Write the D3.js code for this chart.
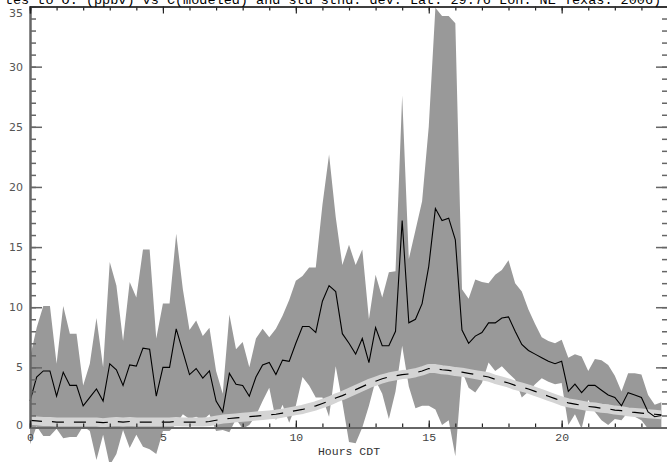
<!DOCTYPE html>
<html>
<head>
<meta charset="utf-8">
<script src="https://cdn.jsdelivr.net/npm/d3@7"></script>
<style>
  html, body { margin: 0; padding: 0; background: #fff; }
  svg { display: block; }
</style>
</head>
<body>
<svg id="chart" width="667" height="462"></svg>
<script>
// ---- data (15-minute steps, hours CDT) ----
const hours = d3.range(96).map(i => i * 0.25);

const obsMean = [
  2.2,4.2,4.7,4.7, 2.6,4.6,3.5,3.5, 1.8,2.5,3.2,2.2, 5.3,4.8,3.5,5.2,
  5.1,6.6,6.5,2.6, 5.0,5.0,8.2,6.3, 4.4,4.9,4.1,4.7, 2.2,1.3,4.5,3.6,
  3.5,2.6,4.2,5.2, 5.4,4.4,5.6,5.5, 7.0,8.4,8.4,7.9, 10.5,11.8,11.3,7.8,
  7.0,6.1,7.4,5.4, 8.3,6.8,6.8,8.0, 17.2,8.7,9.0,10.3, 13.4,18.2,17.2,17.4,
  15.6,8.1,7.0,7.6, 7.9,8.7,8.7,9.1, 9.2,8.0,6.9,6.4, 6.1,5.8,5.5,5.3,
  5.5,3.0,3.6,2.9, 3.5,3.5,3.1,2.7, 2.5,1.8,2.9,2.7, 2.5,1.3,0.9,1.0
];

const obsStd = [
  3.6,4.1,5.4,5.4, 2.7,5.5,4.3,4.3, 1.7,2.8,5.9,2.8, 8.45,7.0,3.7,6.9,
  5.7,8.2,8.3,4.8, 5.3,5.3,7.9,5.2, 3.7,4.0,3.5,3.6, 2.5,1.5,4.9,2.9,
  3.6,2.4,3.2,3.0, 2.1,3.8,3.7,5.1, 5.2,4.2,4.9,5.4, 8.0,10.9,6.2,5.7,
  8.2,7.4,7.4,3.6, 4.4,4.0,6.1,5.0, 10.4,5.3,7.4,8.5, 11.6,16.7,17.0,16.8,
  18.0,3.4,3.7,4.7, 4.2,3.3,4.0,4.0, 4.7,4.0,4.4,3.4, 2.5,1.7,1.7,1.7,
  1.8,2.8,2.5,3.0, 1.2,2.2,2.5,2.5, 1.8,1.2,1.6,1.8, 1.9,1.4,1.0,1.1
];

const modelMean = [
  0.6,0.55,0.5,0.5, 0.45,0.45,0.45,0.45, 0.45,0.45,0.45,0.4, 0.45,0.5,0.45,0.5,
  0.45,0.45,0.45,0.45, 0.45,0.45,0.5,0.45, 0.45,0.45,0.45,0.5, 0.6,0.7,0.75,0.8,
  0.85,0.9,0.95,1.0, 1.05,1.1,1.2,1.3, 1.4,1.5,1.65,1.8, 2.0,2.2,2.45,2.65,
  2.9,3.15,3.4,3.65, 3.85,4.05,4.2,4.3, 4.4,4.45,4.55,4.7, 4.9,4.9,4.8,4.75,
  4.65,4.6,4.5,4.4, 4.3,4.2,4.0,3.85, 3.7,3.5,3.35,3.2, 3.0,2.8,2.6,2.4,
  2.2,2.05,1.95,1.85, 1.75,1.7,1.6,1.55, 1.45,1.4,1.3,1.25, 1.2,1.15,1.1,1.05
];

const xMajorTicks = [0, 5, 10, 15, 20];
const xMinorTicks = d3.range(0, 25, 1);
const yMajorTicks = [0, 5, 10, 15, 20, 25, 30, 35];
const yMinorTicks = d3.range(0, 36, 1);
const titleText = "tes to O. (ppbv) vs C(modeled) and std stnd. dev. Lat: 29.76 Lon: NE Texas: 2006)";
const xTitle = "Hours CDT";

// ---- layout ----
const svg = d3.select("#chart");
const x = d3.scaleLinear().domain([0, 24]).range([30, 668]);
const y = d3.scaleLinear().domain([0, 35]).range([427.5, 6.5]);

const rows = hours.map((h, i) => ({ h, m: obsMean[i], s: obsStd[i], mod: modelMean[i] }));

// std band
svg.append("path")
  .datum(rows)
  .attr("fill", "#999999")
  .attr("d", d3.area().x(d => x(d.h)).y0(d => y(d.m - d.s)).y1(d => y(d.m + d.s)));

// model band (light)
svg.append("path")
  .datum(rows)
  .attr("fill", "none")
  .attr("stroke", "#d4d4d4")
  .attr("stroke-width", 9)
  .attr("stroke-linejoin", "round")
  .attr("d", d3.line().x(d => x(d.h)).y(d => y(d.mod)));

// model dashed
svg.append("path")
  .datum(rows)
  .attr("fill", "none")
  .attr("stroke", "#000")
  .attr("stroke-width", 1.2)
  .attr("stroke-dasharray", "12,10")
  .attr("d", d3.line().x(d => x(d.h)).y(d => y(d.mod)));

// obs mean
svg.append("path")
  .datum(rows)
  .attr("fill", "none")
  .attr("stroke", "#000")
  .attr("stroke-width", 1.1)
  .attr("d", d3.line().x(d => x(d.h)).y(d => y(d.m)));

// ---- axes ----
const axisColor = "#666";
function styleAxis(g, color, width) {
  g.select(".domain").attr("stroke", color).attr("stroke-width", width);
  g.selectAll(".tick line").attr("stroke", color).attr("stroke-width", 1.5);
}

// left
const gLminor = svg.append("g").attr("transform", "translate(30,0)")
  .call(d3.axisLeft(y).tickValues(yMinorTicks).tickSize(-6).tickFormat(""));
styleAxis(gLminor, axisColor, 2);
const gL = svg.append("g").attr("transform", "translate(30,0)")
  .call(d3.axisLeft(y).tickValues(yMajorTicks).tickSize(-12).tickPadding(7).tickSizeOuter(0));
styleAxis(gL, axisColor, 2);
gL.selectAll("text").attr("font-family", "DejaVu Sans").attr("font-size", 11).attr("fill", "#555")
  .attr("dy", d => d === 35 ? "0.95em" : (d === 0 ? "0.1em" : "0.32em"));

// right
const gRminor = svg.append("g").attr("transform", "translate(668,0)")
  .call(d3.axisRight(y).tickValues(yMinorTicks).tickSize(-6).tickFormat(""));
styleAxis(gRminor, axisColor, 2);
const gR = svg.append("g").attr("transform", "translate(668,0)")
  .call(d3.axisRight(y).tickValues(yMajorTicks).tickSize(-12).tickFormat(""));
styleAxis(gR, axisColor, 2);

// bottom
const gBminor = svg.append("g").attr("transform", `translate(0,${y(0)})`)
  .call(d3.axisBottom(x).tickValues(xMinorTicks).tickSize(-4).tickFormat(""));
styleAxis(gBminor, axisColor, 2);
gBminor.selectAll(".tick line").attr("stroke", "#222").attr("stroke-width", 1.2);
const gB = svg.append("g").attr("transform", `translate(0,${y(0)})`)
  .call(d3.axisBottom(x).tickValues(xMajorTicks).tickSize(-7).tickPadding(5).tickSizeOuter(0));
styleAxis(gB, axisColor, 2);
gB.selectAll(".tick line").attr("stroke", "#222").attr("stroke-width", 1.2);
gB.selectAll("text").attr("font-family", "Liberation Mono").attr("font-size", 11.5).attr("fill", "#444");

// top
const gTminor = svg.append("g").attr("transform", `translate(0,${y(35)})`)
  .call(d3.axisTop(x).tickValues(xMinorTicks).tickSize(-4).tickFormat(""));
styleAxis(gTminor, "#333", 1.5);
gTminor.selectAll(".tick line").attr("stroke", "#222").attr("stroke-width", 1.2);
const gT = svg.append("g").attr("transform", `translate(0,${y(35)})`)
  .call(d3.axisTop(x).tickValues(xMajorTicks).tickSize(-7).tickFormat(""));
styleAxis(gT, "#333", 1.5);
gT.selectAll(".tick line").attr("stroke", "#222").attr("stroke-width", 1.2);

// x title
svg.append("text")
  .attr("x", (x(0) + x(24)) / 2)
  .attr("y", 455)
  .attr("text-anchor", "middle")
  .attr("font-family", "Liberation Mono")
  .attr("font-size", 11.5)
  .attr("fill", "#333")
  .text(xTitle);

// chart title (clipped at the top edge as in the reference)
svg.append("text")
  .attr("x", 333)
  .attr("y", 4)
  .attr("text-anchor", "middle")
  .attr("font-family", "Liberation Mono")
  .attr("font-size", 13.5)
  .attr("fill", "#000")
  .text(titleText);
</script>
</body>
</html>
